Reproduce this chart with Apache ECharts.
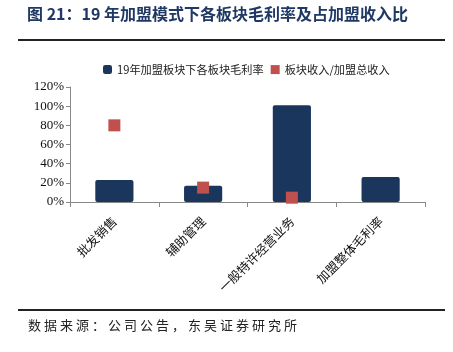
<!DOCTYPE html>
<html><head><meta charset="utf-8">
<script src="https://cdn.jsdelivr.net/npm/echarts@6/dist/echarts.min.js"></script>
<style>html,body{margin:0;padding:0;background:#fff}#c{width:453px;height:352px}</style>
</head><body><div id="c"></div>
<script>
const categories = ['批发销售', '辅助管理', '一般特许经营业务', '加盟整体毛利率'];
const marginValues = [23, 17, 101, 26];
const shareValues = [80, 15, 4.5, null];
const seriesNames = ['19年加盟板块下各板块毛利率', '板块收入/加盟总收入'];
const titleText = '图 21：19 年加盟模式下各板块毛利率及占加盟收入比';
const sourceText = '数据来源：公司公告，东吴证券研究所';

const srcChars = Array.from(sourceText).map((ch, i) => ({
  type: 'text', x: 28 + i * 16, y: 319,
  style: {text: ch, font: '13px "Noto Sans CJK SC"', fill: '#222'}
}));

const chart = echarts.init(document.getElementById('c'), null, {renderer: 'canvas'});
chart.setOption({
  animation: false,
  backgroundColor: '#fff',
  graphic: [
    {type: 'text', left: 27, top: 6, style: {text: titleText, font: 'bold 16px "Noto Sans CJK SC"', fill: '#1f3864'}},
    {type: 'rect', shape: {x: 18, y: 39, width: 427, height: 2}, style: {fill: '#222'}},
    {type: 'rect', shape: {x: 18, y: 309, width: 427, height: 2}, style: {fill: '#222'}}
  ].concat(srcChars),
  legend: {
    top: 59, left: 98, itemWidth: 9, itemHeight: 9, itemGap: 7,
    textStyle: {fontFamily: '"Noto Sans CJK SC"', fontSize: 11.2, color: '#222'},
    data: [{name: seriesNames[0], icon: 'roundRect'}, {name: seriesNames[1], icon: 'rect'}]
  },
  grid: {left: 70, right: 28, top: 87, bottom: 150, containLabel: false},
  xAxis: {
    type: 'category', data: categories,
    axisLine: {lineStyle: {color: '#888'}},
    axisTick: {show: true, alignWithLabel: false, length: 5, lineStyle: {color: '#888'}},
    axisLabel: {rotate: 45, fontFamily: '"Noto Sans CJK SC"', fontSize: 12.5, color: '#111', margin: 17}
  },
  yAxis: {
    type: 'value', min: 0, max: 120, interval: 20,
    splitLine: {show: false},
    axisLine: {show: true, lineStyle: {color: '#888'}},
    axisTick: {show: true, length: 4, lineStyle: {color: '#888'}},
    axisLabel: {formatter: '{value}%', fontFamily: '"Liberation Serif"', fontSize: 13, color: '#111', margin: 6}
  },
  series: [
    {name: seriesNames[0], type: 'bar', data: marginValues, barWidth: '43%',
     itemStyle: {color: '#1b365d', borderRadius: 2}},
    {name: seriesNames[1], type: 'scatter', data: shareValues, symbol: 'rect', symbolSize: 12,
     itemStyle: {color: '#c0504d', opacity: 1}, z: 5}
  ]
});
</script></body></html>
